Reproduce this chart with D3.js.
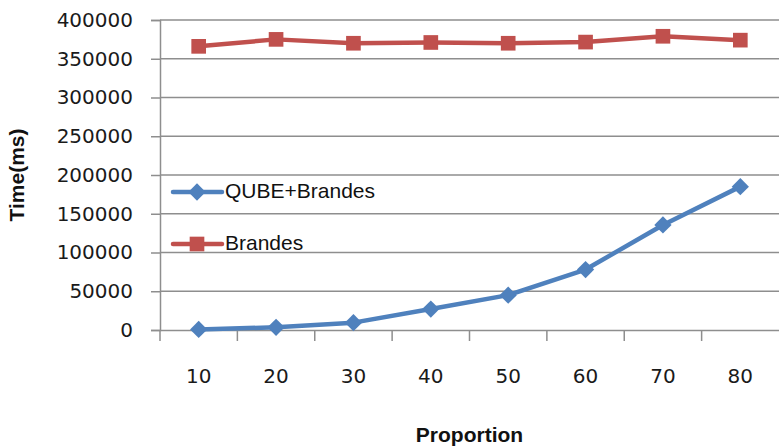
<!DOCTYPE html>
<html>
<head>
<meta charset="utf-8">
<script src="https://cdn.jsdelivr.net/npm/d3@7"></script>
<style>
  html, body { margin: 0; padding: 0; background: #fff; }
  svg { display: block; }
</style>
</head>
<body>
<svg id="chart" width="779" height="446"></svg>
<script>
// Categories (proportion) and timings in ms
const proportions = ["10", "20", "30", "40", "50", "60", "70", "80"];
const qubeBrandes = [800, 3500, 9500, 27000, 45000, 78000, 135500, 185000];
const brandes = [366000, 375000, 370000, 371000, 370000, 371500, 379000, 374000];
const yTicks = [0, 50000, 100000, 150000, 200000, 250000, 300000, 350000, 400000];
const seriesNames = ["QUBE+Brandes", "Brandes"];

const svg = d3.select("#chart");
const plotLeft = 160, plotRight = 779, plotTop = 20, plotBottom = 330;

const x = d3.scaleBand().domain(proportions).range([plotLeft, plotRight]);
const y = d3.scaleLinear().domain([0, 400000]).range([plotBottom, plotTop]);

const gridColor = "#8e8e8e";
const tickFont = "'DejaVu Sans', sans-serif";

// horizontal gridlines
svg.append("g")
  .selectAll("line")
  .data(yTicks.filter(d => d > 0))
  .join("line")
  .attr("x1", plotLeft).attr("x2", plotRight)
  .attr("y1", d => y(d)).attr("y2", d => y(d))
  .attr("stroke", gridColor).attr("stroke-width", 1.5);

// y axis
const yAxis = svg.append("g")
  .attr("transform", `translate(${plotLeft},0)`)
  .call(d3.axisLeft(y).tickValues(yTicks).tickSize(9).tickPadding(18).tickFormat(d3.format("d")));
yAxis.select(".domain").attr("stroke", gridColor).attr("stroke-width", 1.5);
yAxis.selectAll(".tick line").attr("stroke", gridColor).attr("stroke-width", 1.5);
yAxis.selectAll(".tick text")
  .attr("font-family", tickFont).attr("font-size", 20).attr("fill", "#1a1a1a");

// x axis with ticks at category boundaries
const xAxis = svg.append("g")
  .attr("transform", `translate(0,${plotBottom})`)
  .call(d3.axisBottom(x).tickSize(0).tickPadding(38));
xAxis.select(".domain").attr("stroke", gridColor).attr("stroke-width", 1.5);
xAxis.selectAll(".tick text")
  .attr("font-family", tickFont).attr("font-size", 20).attr("fill", "#1a1a1a")
  .attr("dy", "0.32em").attr("y", 47);
xAxis.append("g")
  .selectAll("line")
  .data(proportions)
  .join("line")
  .attr("x1", d => x(d)).attr("x2", d => x(d))
  .attr("y1", 0).attr("y2", 11)
  .attr("stroke", gridColor).attr("stroke-width", 1.5);

// axis titles
svg.append("text")
  .attr("x", (plotLeft + plotRight) / 2).attr("y", 436)
  .attr("text-anchor", "middle").attr("dominant-baseline", "middle")
  .attr("font-family", "'Liberation Sans', Arial, sans-serif")
  .attr("font-weight", "bold").attr("font-size", 21).attr("fill", "#111")
  .text("Proportion");
svg.append("text")
  .attr("transform", `translate(18,${(plotTop + plotBottom) / 2}) rotate(-90)`)
  .attr("text-anchor", "middle").attr("dominant-baseline", "middle")
  .attr("font-family", "'Liberation Sans', Arial, sans-serif")
  .attr("font-weight", "bold").attr("font-size", 21).attr("fill", "#111")
  .text("Time(ms)");

const blue = "#4F81BD", red = "#C0504D";
const cx = d => x(d) + x.bandwidth() / 2;
const line = d3.line().x(d => cx(d.k)).y(d => y(d.v));

const diamond = d3.symbol().type(d3.symbolDiamond2).size(190);
const square = d3.symbol().type(d3.symbolSquare).size(215);

function drawSeries(values, color, sym) {
  const pts = proportions.map((k, i) => ({ k, v: values[i] }));
  const g = svg.append("g");
  g.append("path").datum(pts)
    .attr("d", line).attr("fill", "none")
    .attr("stroke", color).attr("stroke-width", 4.5)
    .attr("stroke-linejoin", "round");
  g.selectAll("path.m").data(pts).join("path")
    .attr("class", "m")
    .attr("transform", d => `translate(${cx(d.k)},${y(d.v)})`)
    .attr("d", sym).attr("fill", color);
}

drawSeries(brandes, red, square);
drawSeries(qubeBrandes, blue, diamond);

// legend
const legend = svg.append("g");
const legendRows = [
  { name: seriesNames[0], color: blue, sym: diamond, y: 192 },
  { name: seriesNames[1], color: red, sym: square, y: 244 }
];
legendRows.forEach(r => {
  legend.append("line")
    .attr("x1", 173).attr("x2", 222).attr("y1", r.y).attr("y2", r.y)
    .attr("stroke", r.color).attr("stroke-width", 4.5).attr("stroke-linecap", "round");
  legend.append("path")
    .attr("transform", `translate(197,${r.y})`)
    .attr("d", r.sym).attr("fill", r.color);
  legend.append("text")
    .attr("x", 225).attr("y", r.y)
    .attr("dominant-baseline", "middle")
    .attr("font-family", "'Liberation Sans', Arial, sans-serif")
    .attr("font-size", 21).attr("fill", "#111")
    .text(r.name);
});
</script>
</body>
</html>
